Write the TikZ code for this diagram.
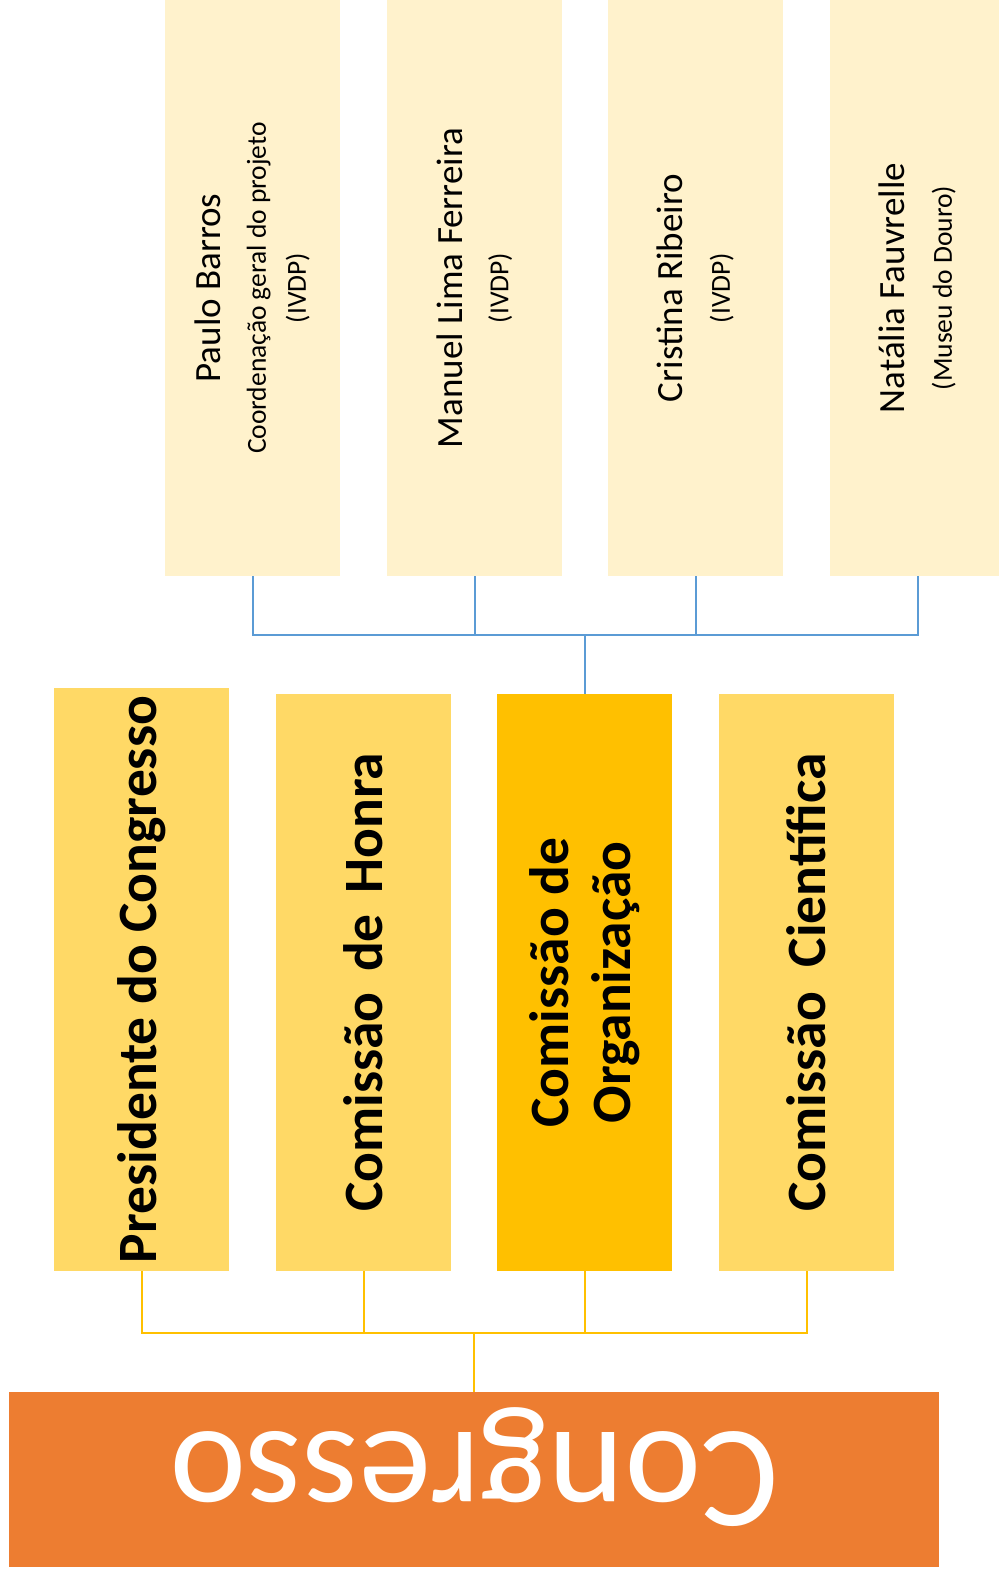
\documentclass[tikz,border=0pt]{standalone}
\usepackage{fontspec}
\setmainfont{Carlito}
\usepackage{tikz}
\usetikzlibrary{calc}

\definecolor{cream}{HTML}{FFF2CC}
\definecolor{gold}{HTML}{FFD966}
\definecolor{amber}{HTML}{FFC000}
\definecolor{tangerine}{HTML}{ED7D31}
\definecolor{steel}{HTML}{5B9BD5}

\tikzset{
  person/.style={rotate=90, fill=cream, minimum width=576pt, minimum height=175pt,
    inner sep=0pt, align=center, font=\fontsize{27.5}{40}\selectfont},
  board/.style={rotate=90, fill=gold, minimum width=577pt, minimum height=175pt,
    inner sep=0pt, align=center, font=\bfseries\fontsize{55.5}{62}\selectfont},
  bluelink/.style={draw=steel, line width=2pt},
  goldlink/.style={draw=amber, line width=2pt}
}
\newcommand{\who}[1]{{\fontsize{37}{44}\selectfont #1}}

\begin{document}
\begin{tikzpicture}[x=1pt,y=-1pt]
            \useasboundingbox (0,0) rectangle (999,1575);

            % Place the people (rotated: west is the bottom, east the top)
            \node[person] (p1) at (252.5,288) {\who{Paulo Barros}\\[5pt]Coordenação geral do projeto\\(IVDP)};
            \node[person] (p2) at (474.5,288) {\who{Manuel Lima Ferreira}\\[6pt](IVDP)};
            \node[person] (p3) at (695.5,288) {\who{Cristina Ribeiro}\\[7pt](IVDP)};
            \node[person] (p4) at (917.5,288) {\who{Natália Fauvrelle}\\[7pt](Museu do Douro)};

            % Place the boards
            \node[board, minimum width=583pt] (pres) at (141.5,979.5) {Presidente do Congresso};
            \node[board] (honra) at (363.5,982.5) {Comissão\ \hspace{8pt}de\ \hspace{8pt}Honra};
            \node[board, fill=amber] (org) at (584.5,982.5) {Comissão de\\Organização};
            \node[board] (cient) at (806.5,982.5) {Comissão\ \ Científica};

            % Place the base (turned upside down: south is the top)
            \node[rotate=180, fill=tangerine, minimum width=930pt, minimum height=175pt,
              inner sep=0pt, text=white, text height=110pt, text depth=15pt,
              font=\fontsize{145}{150}\selectfont] (cong) at (474,1479.5) {Congresso};

            % The connectors
            \coordinate (topbus) at (584.5,635);
            \coordinate (lowbus) at (474,1333);
            \draw[bluelink] (org.east) -- (topbus) -| (p1.west);
            \draw[bluelink] (org.east) -- (topbus) -| (p2.west);
            \draw[bluelink] (org.east) -- (topbus) -| (p3.west);
            \draw[bluelink] (org.east) -- (topbus) -| (p4.west);
            \draw[goldlink] (cong.south) -- (lowbus) -| (pres.west);
            \draw[goldlink] (cong.south) -- (lowbus) -| (honra.west);
            \draw[goldlink] (cong.south) -- (lowbus) -| (org.west);
            \draw[goldlink] (cong.south) -- (lowbus) -| (cient.west);
        \end{tikzpicture}
\end{document}
